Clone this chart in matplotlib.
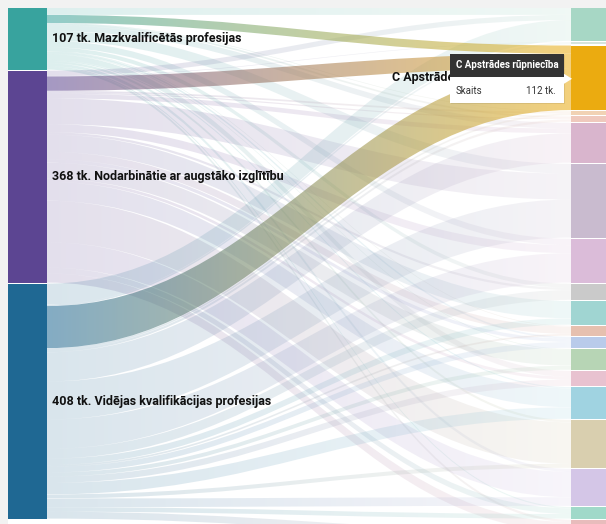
import numpy as np
import matplotlib.pyplot as plt
from matplotlib.path import Path
from matplotlib.patches import PathPatch, Rectangle, Polygon
from matplotlib.colors import to_rgb

# left nodes (profession groups), values in thousands
groups = ['Mazkvalificētās profesijas',
          'Nodarbinātie ar augstāko izglītību',
          'Vidējas kvalifikācijas profesijas']
group_colors = ['#38a39e', '#5c4592', '#1f6893']

# right nodes (NACE sectors)
sectors = ['A Lauksaimniecība, mežsaimniecība un zivsaimniecība',
           'B Ieguves rūpniecība un karjeru izstrāde',
           'C Apstrādes rūpniecība',
           'D Elektroenerģija, gāzes apgāde',
           'E Ūdens apgāde',
           'F Būvniecība',
           'G Vairumtirdzniecība un mazumtirdzniecība',
           'H Transports un uzglabāšana',
           'I Izmitināšana un ēdināšanas pakalpojumi',
           'J Informācijas un komunikācijas pakalpojumi',
           'K Finanšu un apdrošināšanas darbības',
           'L Operācijas ar nekustamo īpašumu',
           'M Profesionālie, zinātniskie un tehniskie pakalpojumi',
           'N Administratīvo un apkalpojošo dienestu darbība',
           'O Valsts pārvalde un aizsardzība',
           'P Izglītība',
           'Q Veselības un sociālā aprūpe',
           'R Māksla, izklaide un atpūta',
           'S Citi pakalpojumi']
sector_colors = ['#a7d7c5', '#d6e4dc', '#ebab10', '#f1d2b4', '#efc9bd',
                 '#d9b5cd', '#c9bbcf', '#dbbcd9', '#cacaca', '#a0d5d2',
                 '#e6c0af', '#b9cbea', '#b7d5b5', '#e8c2d0', '#a0d3e1',
                 '#d9cfaf', '#d4c6e7', '#a0d9c9', '#e8bcbc']

# flows from each group to each sector (tk.)
low_skill = [12, 0, 14, 1, 3, 10, 17, 11, 7, 0, 1, 3, 1, 10, 2, 4, 5, 2, 4]
higher_ed = [9, 1, 25, 3, 2, 8, 45, 14, 4, 30, 13, 6, 28, 5, 33, 72, 44, 10, 16]
mid_skill = [36, 3, 73, 3, 4, 51, 66, 51, 17, 11, 3, 10, 7, 11, 20, 7, 15, 8, 12]

flows = np.array([low_skill, higher_ed, mid_skill], dtype=float)
group_totals = flows.sum(axis=1)
sector_totals = flows.sum(axis=0)
highlight = 2  # C Apstrādes rūpniecība

W, H = 606, 524
fig = plt.figure(figsize=(W / 100, H / 100), dpi=100, facecolor='#f2f2f2')
ax = fig.add_axes([0, 0, 1, 1])
ax.set_axis_off()

top = 8
node_w = 39
left_x = 8
right_x = 571
scale = 0.576
pad_l, pad_r = 1.0, 1.2
font = ['Roboto', 'DejaVu Sans']

ax.add_patch(Rectangle((left_x, top), W, H, facecolor='white', edgecolor='none', zorder=0))

# node positions
gy = []
y = top
for v in group_totals:
    gy.append(y)
    y += v * scale + pad_l
sy = []
y = top
for v in sector_totals:
    sy.append(y)
    y += v * scale + pad_r


def draw_link(x0, x1, a0, b0, a1, b1, c0, c1, alpha, z):
    cx = (x1 - x0) * 0.42
    verts = [(x0, a0), (x0 + cx, a0), (x1 - cx, a1), (x1, a1),
             (x1, b1), (x1 - cx, b1), (x0 + cx, b0), (x0, b0), (x0, a0)]
    codes = [Path.MOVETO, Path.CURVE4, Path.CURVE4, Path.CURVE4,
             Path.LINETO, Path.CURVE4, Path.CURVE4, Path.CURVE4, Path.CLOSEPOLY]
    patch = PathPatch(Path(verts, codes), facecolor='none', edgecolor='none')
    ax.add_patch(patch)
    g = np.linspace(0, 1, 256)[:, None]
    rgb = (1 - g) * np.array(to_rgb(c0)) + g * np.array(to_rgb(c1))
    img = np.zeros((1, 256, 4))
    img[0, :, :3] = rgb
    img[0, :, 3] = alpha
    im = ax.imshow(img, extent=[x0, x1, max(b0, b1), min(a0, a1)],
                   aspect='auto', interpolation='bilinear', zorder=z)
    im.set_clip_path(patch)


x0 = left_x + node_w
sec_off = [0.0] * len(sectors)
for i in range(len(groups)):
    off = 0.0
    for j in range(len(sectors)):
        h = flows[i, j] * scale
        if h <= 0:
            continue
        a0 = gy[i] + off
        a1 = sy[j] + sec_off[j]
        off += h
        sec_off[j] += h
        if j == highlight:
            draw_link(x0, right_x, a0, a0 + h, a1, a1 + h,
                      group_colors[i], sector_colors[j], 0.55, 3)
        else:
            draw_link(x0, right_x, a0, a0 + h, a1, a1 + h,
                      group_colors[i], sector_colors[j], 0.17, 2)

# nodes
for i, name in enumerate(groups):
    h = group_totals[i] * scale
    ax.add_patch(Rectangle((left_x, gy[i]), node_w, h, facecolor=group_colors[i],
                           edgecolor='none', zorder=4))
    ax.text(left_x + node_w + 5, gy[i] + h / 2, f'{group_totals[i]:.0f} tk. {name}',
            ha='left', va='center', fontsize=9, fontweight='bold', color='#111111',
            family=font, zorder=6)

for j in range(len(sectors)):
    h = sector_totals[j] * scale
    ax.add_patch(Rectangle((right_x, sy[j]), 60, h, facecolor=sector_colors[j],
                           edgecolor='none', zorder=4))

# hovered node label and tooltip
cy = sy[highlight] + sector_totals[highlight] * scale / 2
ax.text(392, cy, sectors[highlight], ha='left', va='center', fontsize=9,
        fontweight='bold', color='#111111', family=font, zorder=6)

tx0, tx1 = right_x - 121, right_x - 7
ty0 = cy - 24
ax.add_patch(Rectangle((tx0 + 1, ty0 + 1), tx1 - tx0, 49, facecolor='#000000',
                       alpha=0.08, edgecolor='none', zorder=7))
ax.add_patch(Rectangle((tx0, ty0 + 23), tx1 - tx0, 26, facecolor='white',
                       edgecolor='none', zorder=8))
ax.add_patch(Rectangle((tx0, ty0), tx1 - tx0, 23, facecolor='#333333',
                       edgecolor='none', zorder=8))
ax.add_patch(Polygon([(tx1, ty0 + 20), (right_x + 1, ty0 + 25), (tx1, ty0 + 30)],
                     closed=True, facecolor='white', edgecolor='none', zorder=8))
ax.text(tx0 + 6, ty0 + 11.5, sectors[highlight], ha='left', va='center',
        fontsize=7, fontweight='bold', color='white', family=font, zorder=9)
ax.text(tx0 + 6, ty0 + 37, 'Skaits', ha='left', va='center', fontsize=7,
        color='#333333', family=font, zorder=9)
ax.text(tx1 - 8, ty0 + 37, f'{sector_totals[highlight]:.0f} tk.', ha='right', va='center',
        fontsize=7, color='#333333', family=font, zorder=9)

ax.set_xlim(0, W)
ax.set_ylim(H, 0)
fig.savefig('out.png', dpi=100, facecolor=fig.get_facecolor())
